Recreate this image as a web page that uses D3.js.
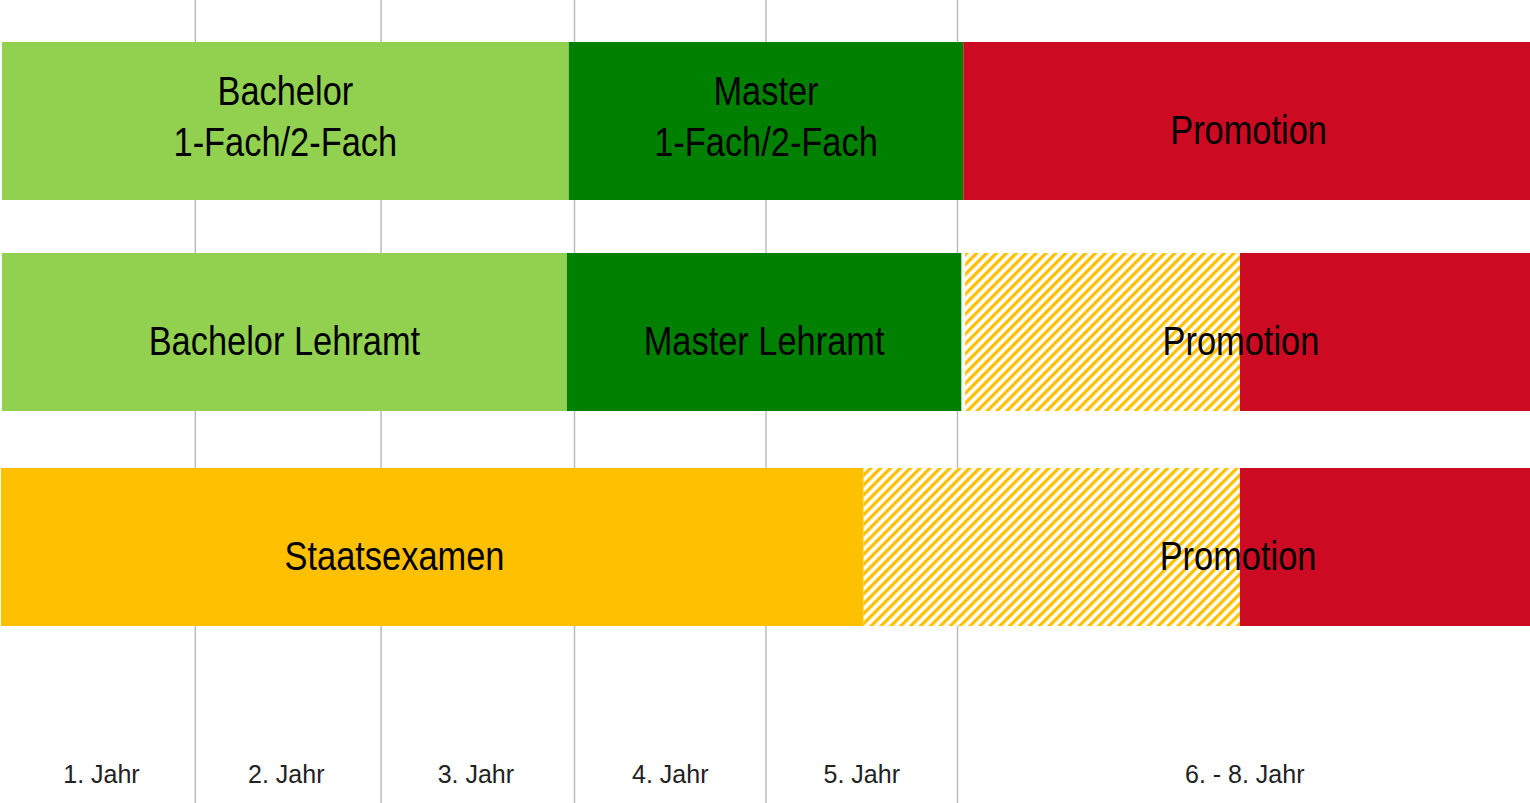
<!DOCTYPE html>
<html>
<head>
<meta charset="utf-8">
<script src="https://cdn.jsdelivr.net/npm/d3@7"></script>
<style>
  body { margin: 0; background: #fff; }
  svg { display: block; }
</style>
</head>
<body>
<div id="chart"></div>
<script>
var width = 1530;
var height = 803;

// Jahre (Spalten)
var columnLabels = ["1. Jahr", "2. Jahr", "3. Jahr", "4. Jahr", "5. Jahr", "6. - 8. Jahr"];
var columnBounds = [0.04, 1.02, 1.97, 3.0, 4.0, 5.0, 8.0];
var gridYears = [1.02, 1.99, 3.0, 4.0, 5.0];

// Studienwege
var segStart = [0.01, 2.97, 5.03, 0.01, 2.96, 5.04, 6.475, 0.005, 4.51, 6.475];
var segEnd   = [2.97, 5.03, 8.0, 2.96, 5.02, 6.475, 8.0, 4.51, 6.475, 8.0];
var segRow   = ["bachelor", "bachelor", "bachelor", "lehramt", "lehramt", "lehramt", "lehramt", "staatsexamen", "staatsexamen", "staatsexamen"];
var segKind  = ["ba", "ma", "promo", "ba", "ma", "hatch", "promo", "stex", "hatch", "promo"];

var labelText = [["Bachelor", "1-Fach/2-Fach"], ["Master", "1-Fach/2-Fach"], ["Promotion"],
                 ["Bachelor Lehramt"], ["Master Lehramt"], ["Promotion"],
                 ["Staatsexamen"], ["Promotion"]];
var labelPos  = [1.49, 4.0, 6.52, 1.485, 3.99, 6.48, 2.06, 6.465];
var labelRow  = ["bachelor", "bachelor", "bachelor", "lehramt", "lehramt", "lehramt", "staatsexamen", "staatsexamen"];

var colors = { ba: "#92d050", ma: "#008000", promo: "#cc0a22", stex: "#ffc000", hatch: "url(#hatch)" };

var x = d3.scaleLinear().domain([0, 8]).range([0, 1532]);
var yTop = { bachelor: 42, lehramt: 253, staatsexamen: 468 };
var barH = 158;

var svg = d3.select("#chart").append("svg").attr("width", width).attr("height", height);

var pat = svg.append("defs").append("pattern")
    .attr("id", "hatch")
    .attr("patternUnits", "userSpaceOnUse")
    .attr("width", 7).attr("height", 7)
    .attr("patternTransform", "rotate(45)");
pat.append("rect").attr("width", 7).attr("height", 7).attr("fill", "#fff");
pat.append("rect").attr("width", 3.3).attr("height", 7).attr("fill", "#ffc000");

// Gitterlinien
svg.selectAll(".grid")
  .data(gridYears)
  .enter().append("line")
    .attr("class", "grid")
    .attr("x1", function(d) { return x(d); })
    .attr("x2", function(d) { return x(d); })
    .attr("y1", 0).attr("y2", height)
    .attr("stroke", "#bcbcbc")
    .attr("stroke-width", 1.5);

svg.selectAll(".seg")
  .data(d3.range(segStart.length))
  .enter().append("rect")
    .attr("class", "seg")
    .attr("x", function(i) { return x(segStart[i]); })
    .attr("width", function(i) { return x(segEnd[i]) - x(segStart[i]); })
    .attr("y", function(i) { return yTop[segRow[i]]; })
    .attr("height", barH)
    .attr("fill", function(i) { return colors[segKind[i]]; });

// schmale Schrift: Liberation Sans horizontal gestaucht
var lab = svg.selectAll(".lab")
  .data(d3.range(labelText.length))
  .enter().append("g")
    .attr("class", "lab")
    .attr("transform", function(i) {
      return "translate(" + x(labelPos[i]) + "," + (yTop[labelRow[i]] + barH / 2) + ") scale(0.86,1)";
    })
  .append("text")
    .attr("text-anchor", "middle")
    .style("font-family", "'Liberation Sans', Arial, sans-serif")
    .style("font-size", "40px")
    .attr("fill", "#000");

lab.each(function(i) {
  var lines = labelText[i];
  var t = d3.select(this);
  var base = lines.length > 1 ? -16 : 23;
  lines.forEach(function(l, k) {
    t.append("tspan")
      .attr("x", 0)
      .attr("y", base + k * 51)
      .text(l);
  });
});

// Achsenbeschriftung
svg.selectAll(".col")
  .data(columnLabels)
  .enter().append("text")
    .attr("class", "col")
    .attr("x", function(d, i) { return (x(columnBounds[i]) + x(columnBounds[i + 1])) / 2; })
    .attr("y", 783)
    .attr("text-anchor", "middle")
    .style("font-family", "'Liberation Sans', Arial, sans-serif")
    .style("font-size", "25px")
    .attr("fill", "#222")
    .text(function(d) { return d; });
</script>
</body>
</html>
